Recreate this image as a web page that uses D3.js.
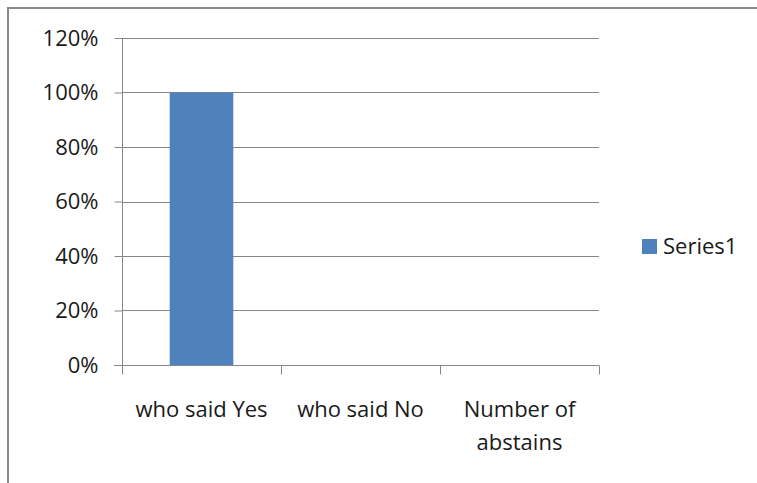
<!DOCTYPE html>
<html>
<head>
<meta charset="utf-8">
<script src="https://cdn.jsdelivr.net/npm/d3@7"></script>
<style>
  body { margin: 0; background: #fff; }
  text { font-family: "Open Sans", "Liberation Sans", sans-serif; fill: #1a1a1a; }
</style>
</head>
<body>
<div id="chart"></div>
<script>
const categories = [["who said Yes"], ["who said No"], ["Number of", "abstains"]];
const values = [1.0, 0, 0];
const yTicks = [0, 0.2, 0.4, 0.6, 0.8, 1.0, 1.2];
const seriesName = "Series1";

const width = 757, height = 483;
const margin = { left: 122, right: 158, top: 38, bottom: 118 };
const fontSize = 22;

const svg = d3.select("#chart").append("svg")
  .attr("width", width)
  .attr("height", height);

// outer frame
svg.append("rect")
  .attr("x", 8).attr("y", 8)
  .attr("width", 800).attr("height", 500)
  .attr("fill", "none")
  .attr("stroke", "#8a8a8a")
  .attr("stroke-width", 2);

const x = d3.scaleBand()
  .domain(d3.range(categories.length))
  .range([margin.left, width - margin.right])
  .paddingInner(0.6)
  .paddingOuter(0.3);

const y = d3.scaleLinear()
  .domain([0, 1.2])
  .range([height - margin.bottom, margin.top]);

// gridlines
svg.append("g")
  .selectAll("line")
  .data(yTicks.slice(1))
  .enter().append("line")
  .attr("x1", margin.left).attr("x2", width - margin.right)
  .attr("y1", d => Math.round(y(d)) + 0.5).attr("y2", d => Math.round(y(d)) + 0.5)
  .attr("stroke", "#868686");

// y axis
const yAxis = svg.append("g")
  .attr("transform", `translate(${margin.left + 0.5},0)`)
  .call(d3.axisLeft(y).tickValues(yTicks).tickFormat(d3.format(".0%")).tickSize(8).tickPadding(16));
yAxis.select(".domain").attr("stroke", "#868686").attr("d", `M0,${y(1.2)}V${y(0)}`);
yAxis.selectAll(".tick line").attr("stroke", "#868686");
yAxis.selectAll(".tick text").attr("font-size", fontSize).attr("fill", "#1a1a1a")
  .style("font-family", "'Open Sans', 'Liberation Sans', sans-serif");

// bars
svg.append("g")
  .selectAll("rect")
  .data(values)
  .enter().append("rect")
  .attr("x", (d, i) => x(i))
  .attr("width", x.bandwidth())
  .attr("y", d => y(d))
  .attr("height", d => y(0) - y(d))
  .attr("fill", "#4f81bd");

// x axis
const x0 = margin.left - 8, x1 = width - margin.right;
const yBase = Math.round(y(0)) + 0.5;
svg.append("line")
  .attr("x1", x0).attr("x2", x1)
  .attr("y1", yBase).attr("y2", yBase)
  .attr("stroke", "#868686");
const step = x.step();
svg.append("g")
  .selectAll("line")
  .data(d3.range(categories.length + 1))
  .enter().append("line")
  .attr("x1", i => Math.round(margin.left + i * step) + 0.5)
  .attr("x2", i => Math.round(margin.left + i * step) + 0.5)
  .attr("y1", yBase).attr("y2", yBase + 9)
  .attr("stroke", "#868686");

const labels = svg.append("g")
  .selectAll("text")
  .data(categories)
  .enter().append("text")
  .attr("x", (d, i) => x(i) + x.bandwidth() / 2)
  .attr("y", 417)
  .attr("text-anchor", "middle")
  .attr("font-size", fontSize);
labels.selectAll("tspan")
  .data(d => d)
  .enter().append("tspan")
  .attr("x", function() { return this.parentNode.getAttribute("x"); })
  .attr("dy", (d, i) => i === 0 ? 0 : 33)
  .text(d => d);

// legend
const legend = svg.append("g").attr("transform", "translate(642,239)");
legend.append("rect")
  .attr("width", 15).attr("height", 15)
  .attr("fill", "#4f81bd");
legend.append("text")
  .attr("x", 21).attr("y", 7.5)
  .attr("dy", "0.35em")
  .attr("font-size", fontSize)
  .text(seriesName);
</script>
</body>
</html>
